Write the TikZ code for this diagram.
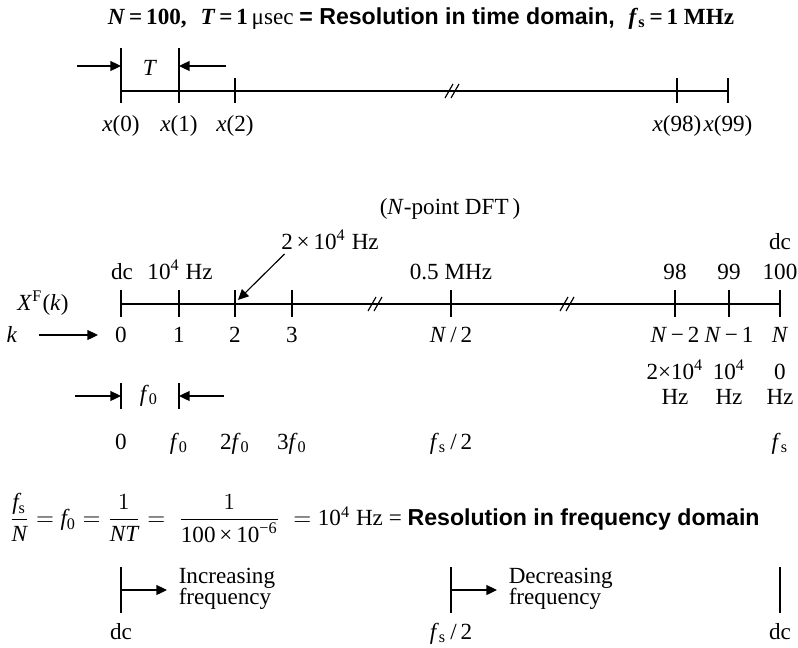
\documentclass[tikz,border=0pt]{standalone}
\usepackage{amsmath}
\usepackage{fontspec}
\setmainfont{Liberation Serif}
\setsansfont{Liberation Sans}
\usetikzlibrary{arrows.meta,positioning,calc}
\newcommand{\fsamp}{\textit{f}\textsubscript{s}}
\newcommand{\fzero}{\textit{f}\textsubscript{0}}
\newcommand{\tenf}{10\textsuperscript{4}}

\begin{document}
\begin{tikzpicture}[x=0.4325pt,y=-0.4325pt,
    line/.style={line width=0.5pt},
    arrow/.style={-{Triangle[length=1.6mm,width=1.5mm]},line width=0.5pt},
    lbl/.style={inner sep=1pt,font=\normalsize,anchor=base},
    brk/.style={line width=0.5pt}
  ]
  \useasboundingbox (0,0) rectangle (798,647);
  % title
  \node[lbl] (title) at (421,24) {{\bfseries\textit{N}\,=\,100,\hspace{0.6em}\textit{T}\,=\,1}\,μsec
    {\sffamily\bfseries = Resolution in time domain,}\hspace{0.6em}{\bfseries\fsamp\,=\,1 MHz}};

  % time axis
  \coordinate (t0) at (121,91);
  \coordinate (t1) at (179,91);
  \coordinate (t2) at (235,91);
  \coordinate (t98) at (677,91);
  \coordinate (t99) at (728,91);
  \coordinate (tb) at (452,91);
  \draw[line] (t0) -- (t99);
  \foreach \p in {t0,t1} \draw[line] ($(\p)+(0,-43)$) -- ($(\p)+(0,12)$);
  \foreach \p in {t2,t98,t99} \draw[line] ($(\p)+(0,-13)$) -- ($(\p)+(0,12)$);
  \foreach \d in {-3,3} \draw[brk] ($(tb)+(\d-4,7)$) -- ($(tb)+(\d+4,-7)$);
  \coordinate (ta) at (77,66);
  \coordinate (tc) at (226,66);
  \draw[arrow] (ta) -- (ta -| t0);
  \draw[arrow] (tc) -- (tc -| t1);
  \node[lbl] (T) at (150,75) {\textit{T}};
  \foreach \p/\t in {t0/0,t1/1,t2/2,t98/98,t99/99}
    \node[lbl] (x\t) at ($(\p)+(0,40)$) {\textit{x}(\t)};

  % frequency axis
  \node[lbl] (dft) at (450,214) {(\textit{N}-point DFT\,)};
  \coordinate (k0) at (121,304);
  \coordinate (k1) at (179,304);
  \coordinate (k2) at (235,304);
  \coordinate (k3) at (292,304);
  \coordinate (kh) at (451,304);
  \coordinate (k98) at (675,304);
  \coordinate (k99) at (729,304);
  \coordinate (k100) at (780,304);
  \coordinate (kb1) at (375,304);
  \coordinate (kb2) at (567,304);
  \draw[line] (k0) -- (k100);
  \foreach \p in {k0,k1,k2,k3,kh,k98,k99,k100}
    \draw[line] ($(\p)+(0,-14)$) -- ($(\p)+(0,13)$);
  \foreach \b in {kb1,kb2}
    \foreach \d in {-3,3} \draw[brk] ($(\b)+(\d-4,7)$) -- ($(\b)+(\d+4,-7)$);

  \node[lbl] (dc0) at (122,279) {dc};
  \node[lbl] (hz1) at (180,279) {\tenf{} Hz};
  \node[lbl] (hzh) at (451,279) {0.5 MHz};
  \node[lbl] (n98) at (675,279) {98};
  \node[lbl] (n99) at (729,279) {99};
  \node[lbl] (n100) at (780,279) {100};
  \node[lbl] (dc1) at (780,249) {dc};
  \node[lbl] (hz2) at (330,249) {2\,×\,\tenf{} Hz};
  \coordinate (hz2tip) at (238,300);
  \draw[arrow] ($(hz2.south west)+(6,2)$) -- (hz2tip);

  \node[lbl] (xfk) at (43,310) {\textit{X}\textsuperscript{F}(\textit{k})};
  \node[lbl] (kk) at (12,342) {\textit{k}};
  \coordinate (ks) at (39,335);
  \coordinate (kend) at (98,335);
  \draw[arrow] (ks) -- (kend);
  \foreach \p/\t in {k0/0,k1/1,k2/2,k3/3}
    \node[lbl] (ki\t) at ($(\p)+(0,38)$) {\t};
  \node[lbl] (kih) at ($(kh)+(0,38)$) {\textit{N}\,/\,2};
  \node[lbl] (ki98) at ($(k98)+(0,38)$) {\textit{N}\,−\,2};
  \node[lbl] (ki99) at ($(k99)+(0,38)$) {\textit{N}\,−\,1};
  \node[lbl] (ki100) at ($(k100)+(0,38)$) {\textit{N}};
  \node[lbl] (hzr98) at ($(k98)+(0,75)$) {2×\tenf};
  \node[lbl] (hzr99) at ($(k99)+(0,75)$) {\tenf};
  \node[lbl] (hzr100) at ($(k100)+(0,75)$) {0};
  \foreach \p/\t in {k98/98,k99/99,k100/100}
    \node[lbl] (hzu\t) at ($(\p)+(0,100)$) {Hz};

  % f0 spacing
  \coordinate (f0) at (121,396);
  \coordinate (f1) at (179,396);
  \foreach \p in {f0,f1} \draw[line] ($(\p)+(0,-13)$) -- ($(\p)+(0,13)$);
  \coordinate (fa) at (75,396);
  \coordinate (fc) at (224,396);
  \draw[arrow] (fa) -- (f0);
  \draw[arrow] (fc) -- (f1);
  \node[lbl] (fzl) at (149,401) {\fzero};
  \node[lbl] (r0) at (121,449) {0};
  \node[lbl] (r1) at (179,449) {\fzero};
  \node[lbl] (r2) at (235,449) {2\fzero};
  \node[lbl] (r3) at (292,449) {3\fzero};
  \node[lbl] (rh) at (451,449) {\fsamp\,/\,2};
  \node[lbl] (rs) at (780,449) {\fsamp};

  % resolution formula
  \node[inner sep=1pt,anchor=west] (res) at (6,518) {$\dfrac{\fsamp}{\textit{N}} = \fzero = \dfrac{1}{\textit{NT}} =\; \dfrac{1}{\text{100\,×\,10\textsuperscript{−6}}}\; = \text{\tenf}$ Hz = {\sffamily\bfseries Resolution in frequency domain}};

  % direction of frequency
  \coordinate (b0) at (121,590);
  \coordinate (b1) at (451,590);
  \coordinate (b2) at (780,590);
  \foreach \p in {b0,b1,b2} \draw[line] ($(\p)+(0,-23)$) -- ($(\p)+(0,23)$);
  \coordinate (e0) at (167,590);
  \coordinate (e1) at (497,590);
  \draw[arrow] (b0) -- (e0);
  \draw[arrow] (b1) -- (e1);
  \node[inner sep=1pt,align=left,anchor=west] (inc) at (176,589) {Increasing\\[-3pt]frequency};
  \node[inner sep=1pt,align=left,anchor=west] (dec) at (506,589) {Decreasing\\[-3pt]frequency};
  \node[lbl] (bdc0) at (121,639) {dc};
  \node[lbl] (bh) at (451,639) {\fsamp\,/\,2};
  \node[lbl] (bdc2) at (780,639) {dc};
\end{tikzpicture}
\end{document}
